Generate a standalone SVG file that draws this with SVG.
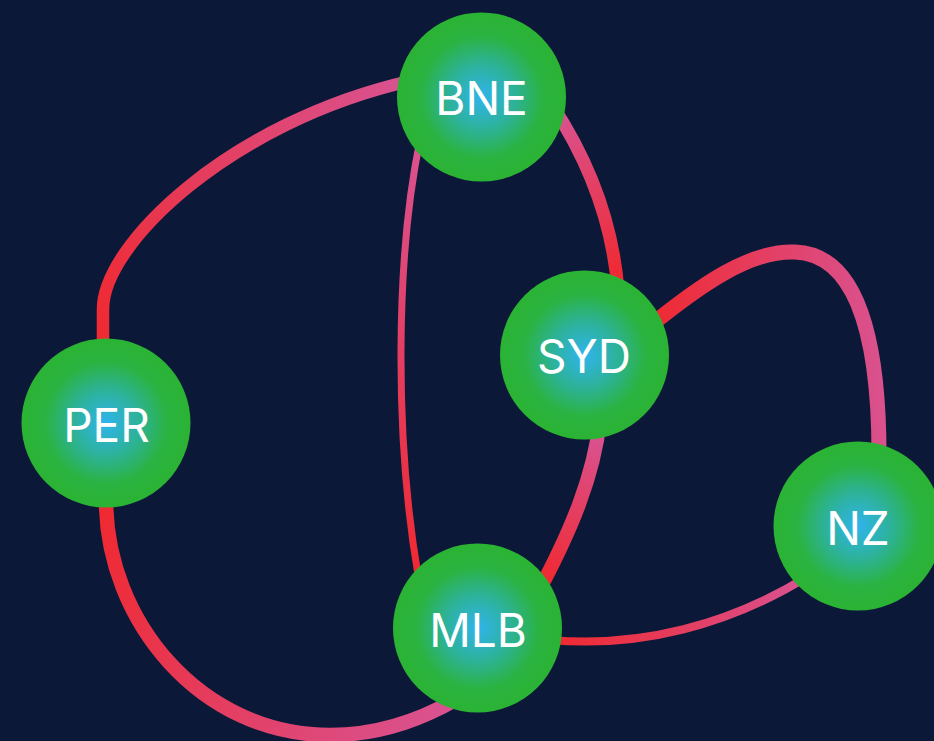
<svg xmlns="http://www.w3.org/2000/svg" width="934" height="741" viewBox="0 0 934 741">
  <defs>
    <radialGradient id="nodeFill" cx="50%" cy="50%" r="50%">
      <stop offset="0" stop-color="#2fb4ee"/>
      <stop offset="0.38" stop-color="#2db29c"/>
      <stop offset="0.72" stop-color="#2bb342"/>
      <stop offset="1" stop-color="#2ab333"/>
    </radialGradient>
    <linearGradient id="g-per-bne" gradientUnits="userSpaceOnUse" x1="103" y1="330" x2="400" y2="84">
      <stop offset="0" stop-color="#ef2a33"/><stop offset="1" stop-color="#d9528f"/>
    </linearGradient>
    <linearGradient id="g-per-mlb" gradientUnits="userSpaceOnUse" x1="106" y1="520" x2="445" y2="708">
      <stop offset="0" stop-color="#ef2a33"/><stop offset="1" stop-color="#d9528f"/>
    </linearGradient>
    <linearGradient id="g-mlb-bne" gradientUnits="userSpaceOnUse" x1="415" y1="565" x2="418" y2="150">
      <stop offset="0" stop-color="#ef2a33"/><stop offset="1" stop-color="#d9528f"/>
    </linearGradient>
    <linearGradient id="g-syd-bne" gradientUnits="userSpaceOnUse" x1="617" y1="275" x2="558" y2="115">
      <stop offset="0" stop-color="#ef2a33"/><stop offset="1" stop-color="#d9528f"/>
    </linearGradient>
    <linearGradient id="g-mlb-syd" gradientUnits="userSpaceOnUse" x1="545" y1="578" x2="598" y2="438">
      <stop offset="0" stop-color="#ef2a33"/><stop offset="1" stop-color="#d9528f"/>
    </linearGradient>
    <linearGradient id="g-syd-nz" gradientUnits="userSpaceOnUse" x1="655" y1="320" x2="879" y2="300">
      <stop offset="0" stop-color="#ef2a33"/><stop offset="1" stop-color="#d9528f"/>
    </linearGradient>
    <linearGradient id="g-mlb-nz" gradientUnits="userSpaceOnUse" x1="560" y1="640" x2="800" y2="580">
      <stop offset="0" stop-color="#ef2a33"/><stop offset="1" stop-color="#d9528f"/>
    </linearGradient>
  </defs>
  <style>
    .edge { fill: none; stroke-linecap: butt; }
    .node circle { fill: url(#nodeFill); }
    .node text { fill: #ffffff; font-family: Inter, "Open Sans", "Liberation Sans", sans-serif; font-size: 46px; text-anchor: middle; }
  </style>
  <rect x="0" y="0" width="934" height="741" fill="#0b1837"/>
  <g id="edges">
    <path class="edge" stroke="url(#g-per-bne)" stroke-width="12.5" d="M 103 350 L 103 310 C 102 245, 230 122, 410 81"/>
    <path class="edge" stroke="url(#g-per-mlb)" stroke-width="14.5" d="M 106 500 C 106 620, 200 735, 330 735 C 380 735, 420 720, 455 700"/>
    <path class="edge" stroke="url(#g-mlb-bne)" stroke-width="7" d="M 420 140 C 395 260, 395 440, 418 575"/>
    <path class="edge" stroke="url(#g-syd-bne)" stroke-width="13" d="M 552 105 C 585 155, 612 215, 618 290"/>
    <path class="edge" stroke="url(#g-mlb-syd)" stroke-width="14" d="M 600 420 C 594 475, 572 530, 535 598"/>
    <path class="edge" stroke="url(#g-syd-nz)" stroke-width="15" d="M 645 330 C 700 285, 750 250, 795 252 C 850 254, 879 320, 879 455"/>
    <path class="edge" stroke="url(#g-mlb-nz)" stroke-width="8" d="M 550 640 C 640 648, 730 625, 810 575"/>
  </g>
  <g id="node-bne" class="node">
    <circle cx="481.5" cy="97" r="84.5"/>
    <text x="481.5" y="115">BNE</text>
  </g>
  <g id="node-per" class="node">
    <circle cx="106" cy="423" r="84.5"/>
    <text x="106.5" y="442">PER</text>
  </g>
  <g id="node-syd" class="node">
    <circle cx="584.5" cy="355" r="84.5"/>
    <text x="584" y="373">SYD</text>
  </g>
  <g id="node-mlb" class="node">
    <circle cx="477.5" cy="628" r="84.5"/>
    <text x="478" y="647">MLB</text>
  </g>
  <g id="node-nz" class="node">
    <circle cx="858" cy="526" r="84.5"/>
    <text x="858" y="545">NZ</text>
  </g>
</svg>
